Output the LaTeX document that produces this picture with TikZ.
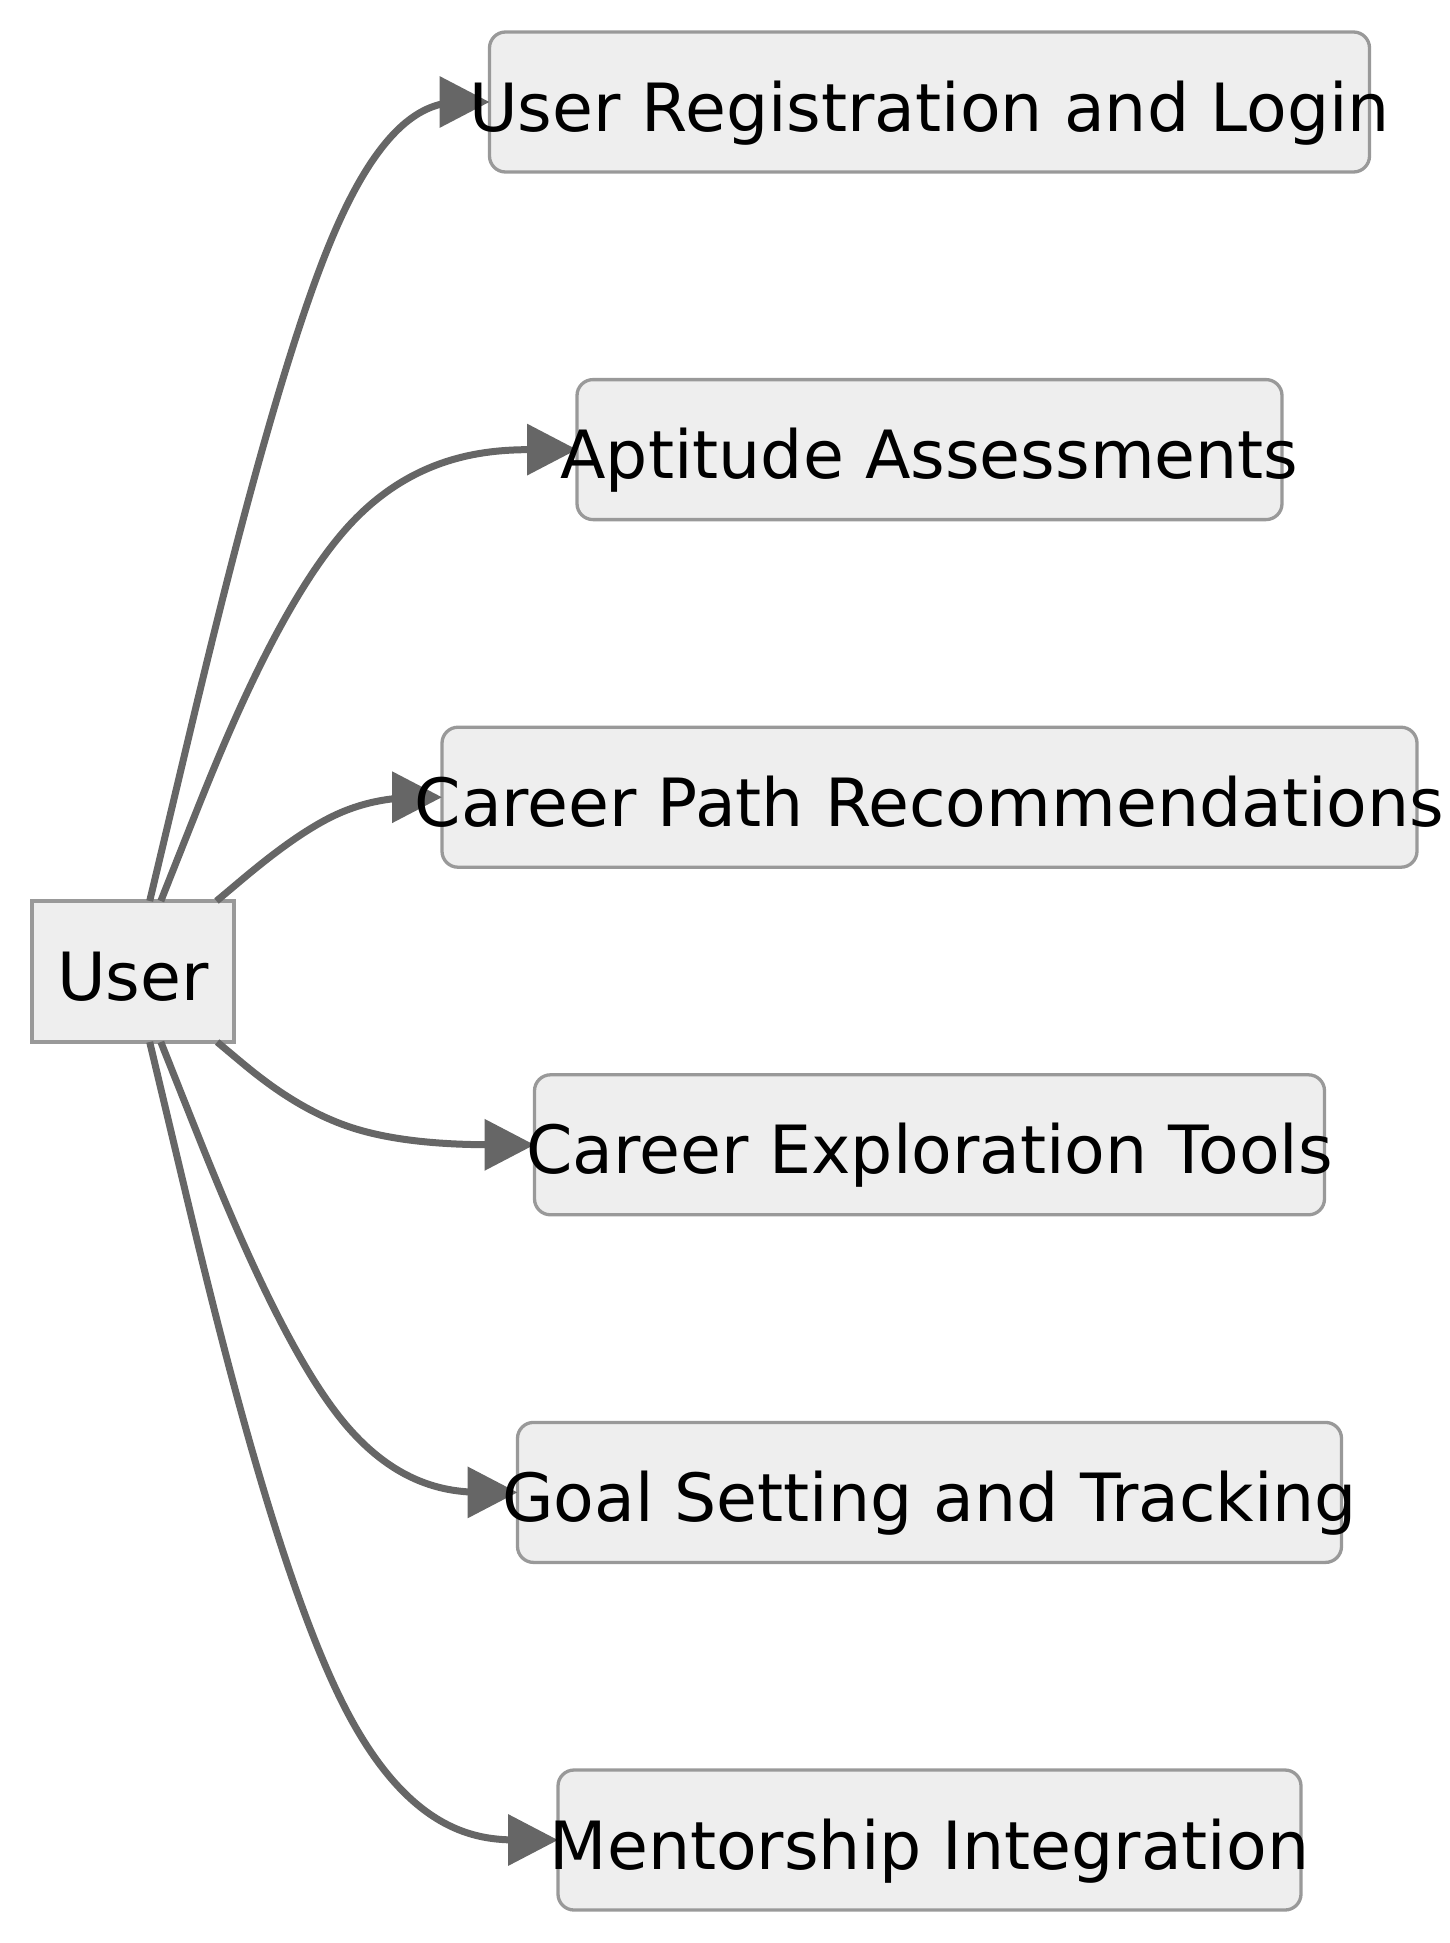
\documentclass[tikz,border=0pt]{standalone}
\usepackage{fontspec}
\setmainfont{DejaVu Sans}
\usetikzlibrary{calc,arrows.meta}
\definecolor{boxfill}{HTML}{EEEEEE}
\definecolor{boxline}{HTML}{999999}
\definecolor{edgecol}{HTML}{666666}
\newcommand{\basisedge}[3]{%
  \path (#1) -- (#2) coordinate[pos=0] (ta);
  \coordinate (tc) at (#3.west);
  \draw[edge] (ta) -- ($(ta)!0.166667!(#2)$)
    .. controls ($(ta)!0.333333!(#2)$) and ($(ta)!0.666667!(#2)$)
    .. ($0.666667*(#2)+0.166667*(ta)+0.166667*(tc)$)
    .. controls ($(#2)!0.333333!(tc)$) and ($(#2)!0.666667!(tc)$)
    .. ($(#2)!0.833333!(tc)$) -- (tc);
}
\begin{document}
\begin{tikzpicture}[x=1pt,y=-1pt,
  box/.style={draw=boxline, fill=boxfill, line width=3.3pt, rounded corners=16pt,
    minimum height=140pt, outer sep=0pt, inner sep=0pt},
  userbox/.style={draw=boxline, fill=boxfill, line width=3.3pt, minimum width=202pt,
    minimum height=141pt, outer sep=0pt, inner sep=0pt},
  lbl/.style={anchor=base, inner sep=0pt, font=\fontsize{66.5}{80}\selectfont},
  edge/.style={draw=edgecol, line width=7pt, line join=round,
    -{Triangle[length=50pt,width=50pt]}}
]
\useasboundingbox (0,0) rectangle (1450,1943);

% nodes
\node[userbox] (u) at (133,971.5) {};
\node[box, minimum width=880pt]   (n1) at (929.5,102) {};
\node[box, minimum width=705pt]   (n2) at (929.5,449.6) {};
\node[box, minimum width=975pt]   (n3) at (929.5,797.2) {};
\node[box, minimum width=790pt]   (n4) at (929.5,1144.8) {};
\node[box, minimum width=824pt]   (n5) at (929.5,1492.4) {};
\node[box, minimum width=743pt]   (n6) at (929.5,1840) {};

% bend points
\coordinate (m1) at (340,102);
\coordinate (m2) at (340,449.6);
\coordinate (m3) at (340,797.2);
\coordinate (m4) at (340,1144.8);
\coordinate (m5) at (340,1492.4);
\coordinate (m6) at (340,1840);

% edges
\basisedge{u}{m1}{n1}
\basisedge{u}{m2}{n2}
\basisedge{u}{m3}{n3}
\basisedge{u}{m4}{n4}
\basisedge{u}{m5}{n5}
\basisedge{u}{m6}{n6}

% labels
\node[lbl] (tu) at ($(u.center)+(0,29)$) {User};
\node[lbl] (t1) at ($(n1.center)+(0,29)$) {User Registration and Login};
\node[lbl] (t2) at ($(n2.center)+(0,29)$) {Aptitude Assessments};
\node[lbl] (t3) at ($(n3.center)+(0,29)$) {Career Path Recommendations};
\node[lbl] (t4) at ($(n4.center)+(0,29)$) {Career Exploration Tools};
\node[lbl] (t5) at ($(n5.center)+(0,29)$) {Goal Setting and Tracking};
\node[lbl] (t6) at ($(n6.center)+(0,29)$) {Mentorship Integration};
\end{tikzpicture}
\end{document}
